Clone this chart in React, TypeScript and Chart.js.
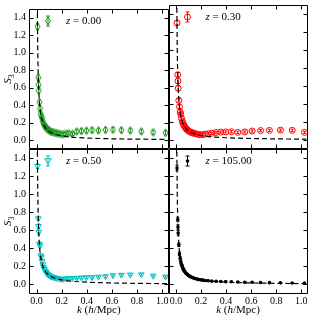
import React, { useEffect, useRef } from 'react';
import { Chart, registerables } from 'chart.js';
Chart.register(...registerables);

const kBins = [0.0077, 0.0139, 0.0156, 0.0175, 0.0227, 0.0278, 0.0333, 0.0385, 0.044, 0.050,
  0.056, 0.062, 0.069, 0.076, 0.084, 0.092, 0.101, 0.111, 0.122, 0.134,
  0.147, 0.161, 0.177, 0.194, 0.213, 0.234, 0.257, 0.286, 0.320, 0.357,
  0.397, 0.442, 0.493, 0.549, 0.608, 0.675, 0.746, 0.834, 0.928, 1.026];

const s3Z000 = [1.30, 0.715, 0.635, 0.57, 0.435, 0.36, 0.30, 0.27, 0.25, 0.21,
  0.19, 0.17, 0.155, 0.145, 0.13, 0.12, 0.11, 0.10, 0.095, 0.09,
  0.085, 0.08, 0.075, 0.07, 0.068, 0.075, 0.08, 0.072, 0.10, 0.105,
  0.11, 0.115, 0.112, 0.118, 0.12, 0.115, 0.112, 0.10, 0.09, 0.085];
const errZ000 = [0.03, 0.03, 0.03, 0.03, 0.03, 0.03, 0.025, 0.025, 0.025, 0.025,
  0.02, 0.02, 0.02, 0.02, 0.02, 0.02, 0.02, 0.02, 0.02, 0.02,
  0.02, 0.02, 0.02, 0.02, 0.02, 0.02, 0.02, 0.02, 0.025, 0.025,
  0.025, 0.025, 0.025, 0.025, 0.025, 0.025, 0.025, 0.025, 0.025, 0.025];

const s3Z030 = [1.30, 0.725, 0.655, 0.575, 0.44, 0.37, 0.31, 0.285, 0.24, 0.21,
  0.185, 0.165, 0.15, 0.135, 0.12, 0.11, 0.10, 0.09, 0.085, 0.08,
  0.072, 0.068, 0.062, 0.058, 0.06, 0.065, 0.07, 0.075, 0.083, 0.088,
  0.09, 0.092, 0.085, 0.09, 0.10, 0.105, 0.107, 0.11, 0.108, 0.085];
const errZ030 = [0.025, 0.025, 0.025, 0.025, 0.02, 0.02, 0.02, 0.02, 0.02, 0.02,
  0.015, 0.015, 0.015, 0.015, 0.015, 0.015, 0.015, 0.015, 0.015, 0.015,
  0.012, 0.012, 0.012, 0.012, 0.012, 0.012, 0.012, 0.012, 0.012, 0.012,
  0.012, 0.012, 0.012, 0.012, 0.012, 0.012, 0.012, 0.012, 0.012, 0.012];

const s3Z050 = [1.31, 0.73, 0.645, 0.58, 0.45, 0.43, 0.32, 0.30, 0.257, 0.22,
  0.19, 0.17, 0.15, 0.135, 0.12, 0.11, 0.10, 0.09, 0.085, 0.08,
  0.075, 0.07, 0.065, 0.06, 0.06, 0.065, 0.068, 0.07, 0.072, 0.075,
  0.078, 0.08, 0.085, 0.088, 0.10, 0.105, 0.108, 0.11, 0.095, 0.085];
const errZ050 = [0.025, 0.025, 0.025, 0.025, 0.02, 0.02, 0.02, 0.02, 0.02, 0.02,
  0.015, 0.015, 0.015, 0.015, 0.015, 0.015, 0.015, 0.015, 0.015, 0.015,
  0.012, 0.012, 0.012, 0.012, 0.012, 0.012, 0.012, 0.012, 0.012, 0.012,
  0.012, 0.012, 0.012, 0.012, 0.012, 0.012, 0.012, 0.012, 0.012, 0.012];

const s3Z105 = [1.29, 0.72, 0.635, 0.57, 0.44, 0.34, 0.29, 0.25, 0.22, 0.20,
  0.175, 0.16, 0.145, 0.13, 0.12, 0.11, 0.10, 0.09, 0.082, 0.075,
  0.068, 0.062, 0.056, 0.052, 0.048, 0.044, 0.041, 0.037, 0.035, 0.033,
  0.031, 0.03, 0.027, 0.025, 0.024, 0.022, 0.02, 0.018, 0.017, 0.016];
const errZ105 = [0.03, 0.025, 0.025, 0.025, 0.02, 0.02, 0.02, 0.02, 0.015, 0.015,
  0.012, 0.012, 0.012, 0.01, 0.01, 0.01, 0.01, 0.01, 0.008, 0.008,
  0.008, 0.008, 0.008, 0.008, 0.012, 0.006, 0.006, 0.006, 0.005, 0.005,
  0.005, 0.005, 0.005, 0.005, 0.004, 0.004, 0.004, 0.004, 0.004, 0.004];

const theoryK = [0.005, 0.006, 0.007, 0.008, 0.01, 0.012, 0.015, 0.02, 0.025, 0.03,
  0.04, 0.05, 0.06, 0.08, 0.1, 0.13, 0.16, 0.2, 0.25, 0.3,
  0.4, 0.5, 0.6, 0.7, 0.8, 0.9, 1.0, 1.04];
const theoryS3 = [2.0, 1.67, 1.43, 1.25, 1.0, 0.83, 0.67, 0.5, 0.4, 0.33,
  0.25, 0.2, 0.167, 0.125, 0.1, 0.077, 0.0625, 0.05, 0.04, 0.033,
  0.025, 0.02, 0.0167, 0.0143, 0.0125, 0.011, 0.01, 0.0096];

const xTicks = [0.0, 0.2, 0.4, 0.6, 0.8, 1.0];
const yTicks = [0.0, 0.2, 0.4, 0.6, 0.8, 1.0, 1.2, 1.4];
const redshiftLabels = ['0.00', '0.30', '0.50', '105.00'];

const W = 313;
const H = 320;
const XL = 29, XM = 168.5, XR = 307.5;
const YT = 4.5, YM = 149, YB = 293.5;
const YAXIS_W = 26;
const XAXIS_H = 14;
const FONT = '"Liberation Serif", "DejaVu Serif", serif';

type Marker = 'diamond' | 'circle' | 'tridown' | 'dot';

function drawMarker(ctx: CanvasRenderingContext2D, m: Marker, x: number, y: number, color: string) {
  ctx.save();
  ctx.strokeStyle = color;
  ctx.fillStyle = color;
  ctx.lineWidth = 1;
  ctx.beginPath();
  if (m === 'diamond') {
    ctx.moveTo(x, y - 4);
    ctx.lineTo(x + 2.5, y);
    ctx.lineTo(x, y + 4);
    ctx.lineTo(x - 2.5, y);
    ctx.closePath();
    ctx.stroke();
  } else if (m === 'circle') {
    ctx.arc(x, y, 3, 0, Math.PI * 2);
    ctx.stroke();
  } else if (m === 'tridown') {
    ctx.moveTo(x - 3.2, y - 2.2);
    ctx.lineTo(x + 3.2, y - 2.2);
    ctx.lineTo(x, y + 3.2);
    ctx.closePath();
    ctx.stroke();
  } else {
    ctx.arc(x, y, 1.8, 0, Math.PI * 2);
    ctx.fill();
  }
  ctx.restore();
}

const decor = {
  id: 'decor',
  beforeDatasetsDraw(chart: any) {
    const ctx = chart.ctx as CanvasRenderingContext2D;
    const xs = chart.scales.x, ys = chart.scales.y;
    const a = chart.chartArea;
    ctx.save();
    ctx.beginPath();
    ctx.rect(a.left, a.top, a.right - a.left, a.bottom - a.top);
    ctx.clip();
    chart.data.datasets.forEach((ds: any) => {
      if (!ds.errors) return;
      ctx.strokeStyle = ds.errColor;
      ctx.lineWidth = 1;
      ctx.beginPath();
      ds.data.forEach((p: any, i: number) => {
        const e = ds.errors[i];
        const x = xs.getPixelForValue(p.x);
        const y1 = ys.getPixelForValue(p.y - e);
        const y2 = ys.getPixelForValue(p.y + e);
        ctx.moveTo(x, y1);
        ctx.lineTo(x, y2);
        ctx.moveTo(x - 1.5, y1);
        ctx.lineTo(x + 1.5, y1);
        ctx.moveTo(x - 1.5, y2);
        ctx.lineTo(x + 1.5, y2);
      });
      ctx.stroke();
    });
    ctx.restore();
  },
  afterDraw(chart: any, _args: any, opts: any) {
    const ctx = chart.ctx as CanvasRenderingContext2D;
    const xs = chart.scales.x, ys = chart.scales.y;
    const a = chart.chartArea;
    const L = Math.round(a.left) + 0.5, R = Math.round(a.right) - 0.5;
    const T = Math.round(a.top) + 0.5, B = Math.round(a.bottom) - 0.5;
    ctx.save();
    ctx.strokeStyle = '#000';
    ctx.lineWidth = 1;
    ctx.beginPath();
    ctx.rect(L, T, R - L, B - T);
    ctx.stroke();
    ctx.beginPath();
    xs.ticks.forEach((t: any) => {
      const x = Math.round(xs.getPixelForValue(t.value)) + 0.5;
      ctx.moveTo(x, B);
      ctx.lineTo(x, B - 4);
      ctx.moveTo(x, T);
      ctx.lineTo(x, T + 4);
    });
    ys.ticks.forEach((t: any) => {
      const y = Math.round(ys.getPixelForValue(t.value)) + 0.5;
      ctx.moveTo(L, y);
      ctx.lineTo(L + 4, y);
      ctx.moveTo(R, y);
      ctx.lineTo(R - 4, y);
    });
    ctx.stroke();

    // legend
    const mx = a.left + 19, my = a.top + 12;
    ctx.strokeStyle = opts.color;
    ctx.beginPath();
    ctx.moveTo(mx, my - 5);
    ctx.lineTo(mx, my + 5);
    ctx.moveTo(mx - 2, my - 5);
    ctx.lineTo(mx + 2, my - 5);
    ctx.moveTo(mx - 2, my + 5);
    ctx.lineTo(mx + 2, my + 5);
    ctx.stroke();
    drawMarker(ctx, opts.marker, mx, my, opts.color);

    ctx.fillStyle = '#000';
    ctx.textBaseline = 'middle';
    ctx.textAlign = 'left';
    let tx = a.left + 37;
    ctx.font = `italic 11px ${FONT}`;
    ctx.fillText('z', tx, my);
    tx += ctx.measureText('z').width;
    ctx.font = `11px ${FONT}`;
    ctx.fillText(' = ' + opts.label, tx, my);

    if (opts.yTitle) {
      const cy = (a.top + a.bottom) / 2;
      ctx.save();
      ctx.translate(8, cy);
      ctx.rotate(-Math.PI / 2);
      ctx.font = `italic 11px ${FONT}`;
      const w1 = ctx.measureText('S').width;
      ctx.font = `8px ${FONT}`;
      const w2 = ctx.measureText('3').width;
      const sx = -(w1 + w2) / 2;
      ctx.textBaseline = 'alphabetic';
      ctx.font = `italic 11px ${FONT}`;
      ctx.fillText('S', sx, 3);
      ctx.font = `8px ${FONT}`;
      ctx.fillText('3', sx + w1, 5.5);
      ctx.restore();
    }
    if (opts.xTitle) {
      const cx = (a.left + a.right) / 2;
      const parts: [string, boolean][] = [['k', true], [' (', false], ['h', true], ['/Mpc)', false]];
      let total = 0;
      parts.forEach(([s, it]) => {
        ctx.font = `${it ? 'italic ' : ''}11px ${FONT}`;
        total += ctx.measureText(s).width;
      });
      let px = cx - total / 2;
      ctx.textBaseline = 'middle';
      parts.forEach(([s, it]) => {
        ctx.font = `${it ? 'italic ' : ''}11px ${FONT}`;
        ctx.fillText(s, px, 310);
        px += ctx.measureText(s).width;
      });
    }
    ctx.restore();
  },
};

function makeChart(canvas: HTMLCanvasElement, cfg: any) {
  const { left, right, top, bottom, showX, showY, values, errors, color, marker, label, point } = cfg;
  const pts = kBins.map((k, i) => ({ x: k, y: values[i] }));
  const theory = theoryK.map((k, i) => ({ x: k, y: theoryS3[i] }));
  const yW = showY ? YAXIS_W : 0;
  const xH = showX ? XAXIS_H : 0;
  return new Chart(canvas, {
    type: 'scatter',
    data: {
      datasets: [
        {
          type: 'line',
          data: theory,
          borderColor: '#000',
          borderWidth: 1.2,
          borderDash: [5, 3],
          pointRadius: 0,
          fill: false,
          showLine: true,
          tension: 0,
          order: 0,
        } as any,
        {
          data: pts,
          errors,
          errColor: color,
          order: 1,
          ...point,
        } as any,
      ],
    },
    options: {
      animation: false,
      responsive: false,
      devicePixelRatio: 1,
      layout: { padding: { left: left - yW, top, right: W - right, bottom: H - bottom - xH } },
      plugins: {
        legend: { display: false },
        tooltip: { enabled: false },
        decor: { color, marker, label, yTitle: showY, xTitle: showX },
      } as any,
      scales: {
        x: {
          type: 'linear',
          min: -0.06,
          max: 1.05,
          afterBuildTicks: (s: any) => { s.ticks = xTicks.map((v) => ({ value: v })); },
          afterFit: (s: any) => { s.height = xH; },
          grid: { display: false, drawTicks: false },
          border: { display: false },
          ticks: {
            display: showX,
            padding: 2,
            color: '#000',
            font: { family: FONT, size: 10 },
            maxRotation: 0,
            autoSkip: false,
            callback: (v: any) => Number(v).toFixed(1),
          },
        },
        y: {
          type: 'linear',
          min: -0.1,
          max: 1.5,
          afterBuildTicks: (s: any) => { s.ticks = yTicks.map((v) => ({ value: v })); },
          afterFit: (s: any) => { s.width = yW; },
          grid: { display: false, drawTicks: false },
          border: { display: false },
          ticks: {
            display: showY,
            padding: 3,
            color: '#000',
            font: { family: FONT, size: 10 },
            autoSkip: false,
            callback: (v: any) => Number(v).toFixed(1),
          },
        },
      },
    },
    plugins: [decor],
  });
}

export default function App() {
  const refs = [useRef<HTMLCanvasElement>(null), useRef<HTMLCanvasElement>(null), useRef<HTMLCanvasElement>(null), useRef<HTMLCanvasElement>(null)];
  useEffect(() => {
    const dia = document.createElement('canvas');
    dia.width = 7;
    dia.height = 10;
    const dc = dia.getContext('2d')!;
    dc.strokeStyle = '#1a961a';
    dc.lineWidth = 1;
    dc.beginPath();
    dc.moveTo(3.5, 1);
    dc.lineTo(6, 5);
    dc.lineTo(3.5, 9);
    dc.lineTo(1, 5);
    dc.closePath();
    dc.stroke();

    const panels = [
      { left: XL, right: XM, top: YT, bottom: YM, showX: false, showY: true, values: s3Z000, errors: errZ000, color: '#1a961a', marker: 'diamond', label: redshiftLabels[0],
        point: { pointStyle: dia, pointRadius: 4 } },
      { left: XM, right: XR, top: YT, bottom: YM, showX: false, showY: false, values: s3Z030, errors: errZ030, color: '#ff0000', marker: 'circle', label: redshiftLabels[1],
        point: { pointStyle: 'circle', pointRadius: 3, borderColor: '#ff0000', backgroundColor: 'rgba(0,0,0,0)', borderWidth: 1 } },
      { left: XL, right: XM, top: YM, bottom: YB, showX: true, showY: true, values: s3Z050, errors: errZ050, color: '#00bfbf', marker: 'tridown', label: redshiftLabels[2],
        point: { pointStyle: 'triangle', rotation: 180, pointRadius: 3.3, borderColor: '#00bfbf', backgroundColor: 'rgba(0,0,0,0)', borderWidth: 1 } },
      { left: XM, right: XR, top: YM, bottom: YB, showX: true, showY: false, values: s3Z105, errors: errZ105, color: '#000000', marker: 'dot', label: redshiftLabels[3],
        point: { pointStyle: 'circle', pointRadius: 1.8, borderColor: '#000', backgroundColor: '#000', borderWidth: 0 } },
    ];
    const charts = panels.map((p, i) => makeChart(refs[i].current!, p));
    return () => charts.forEach((c) => c.destroy());
  }, []);
  return (
    <div style={{ position: 'absolute', left: 0, top: 0, width: W, height: H, background: '#fff' }}>
      {refs.map((r, i) => (
        <canvas key={i} ref={r} width={W} height={H} style={{ position: 'absolute', left: 0, top: 0, width: W, height: H }} />
      ))}
    </div>
  );
}
